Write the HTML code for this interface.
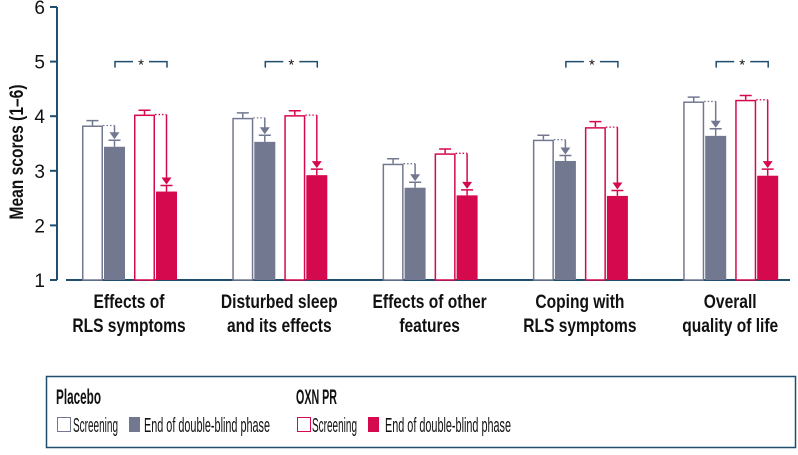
<!DOCTYPE html>
<html><head><meta charset="utf-8"><style>
body{margin:0;background:#fff;font-family:"Liberation Sans",sans-serif}
svg text{font-family:"Liberation Sans",sans-serif}
</style></head><body>
<svg id="chart" width="798" height="450" viewBox="0 0 798 450" xmlns="http://www.w3.org/2000/svg">
<g id="axes"></g><g id="bars"></g>
<g>
<rect x="46.5" y="376.5" width="749" height="71" fill="none" stroke="#1f4e6e" stroke-width="1.5"/>
<text x="56" y="404" textLength="45" lengthAdjust="spacingAndGlyphs" font-size="21" font-weight="bold" fill="#111">Placebo</text>
<rect x="57.5" y="417.5" width="13" height="14" fill="#fff" stroke="#737891"/>
<text x="73" y="432" textLength="45" lengthAdjust="spacingAndGlyphs" font-size="20" fill="#111">Screening</text>
<rect x="129" y="417" width="11" height="15" fill="#737891"/>
<text x="144" y="432" textLength="126" lengthAdjust="spacingAndGlyphs" font-size="20" fill="#111">End of double-blind phase</text>
<text x="296" y="404" textLength="41" lengthAdjust="spacingAndGlyphs" font-size="21" font-weight="bold" fill="#111">OXN PR</text>
<rect x="297.5" y="417.5" width="13" height="14" fill="#fff" stroke="#d5094e"/>
<text x="312" y="432" textLength="45" lengthAdjust="spacingAndGlyphs" font-size="20" fill="#111">Screening</text>
<rect x="368" y="417" width="11" height="15" fill="#d5094e"/>
<text x="385" y="432" textLength="126" lengthAdjust="spacingAndGlyphs" font-size="20" fill="#111">End of double-blind phase</text>
</g>
</svg>
<script>
const categories=[["Effects of","RLS symptoms"],["Disturbed sleep","and its effects"],["Effects of other","features"],["Coping with","RLS symptoms"],["Overall","quality of life"]];
const placeboScreening=[3.83,3.97,3.13,3.57,4.27];
const placeboEnd=[3.44,3.53,2.69,3.18,3.64];
const oxnScreening=[4.03,4.02,3.32,3.80,4.30];
const oxnEnd=[2.62,2.92,2.55,2.54,2.91];
const errPlaceboScreening=[0.09,0.09,0.09,0.08,0.08];
const errPlaceboEnd=[0.12,0.12,0.1,0.1,0.13];
const errOxnScreening=[0.08,0.08,0.08,0.1,0.08];
const errOxnEnd=[0.11,0.11,0.1,0.1,0.12];
const significant=[true,true,false,true,true];
const yTicks=[1,2,3,4,5,6];
const NS="http://www.w3.org/2000/svg";
const Y0=280,PX=54.6,GX0=82,GSTEP=150.3,BW=21;
const y=v=>Y0-(v-1)*PX;
const gx=i=>GX0+i*GSTEP;
const NAVY="#1f4e6e",GREY="#737891",RED="#d5094e";
function mk(tag,attrs,parent,text){const e=document.createElementNS(NS,tag);for(const k in attrs)e.setAttribute(k,attrs[k]);if(text!==undefined)e.textContent=text;parent.appendChild(e);return e;}
const axes=document.getElementById('axes'),bars=document.getElementById('bars');
let e=mk('line',{x1:57,y1:y(6),x2:57,y2:y(1),stroke:NAVY,'stroke-width':2},axes);


e=mk('line',{x1:66,y1:Y0,x2:790,y2:Y0,stroke:NAVY,'stroke-width':2},axes);


yTicks.forEach(t=>{
 const l=mk('line',{x1:50,y1:y(t),x2:57,y2:y(t),stroke:NAVY,'stroke-width':2},axes);
 
 
 const tx=mk('text',{x:45,y:y(t)+7,'font-size':19,'text-anchor':'end',fill:'#111'},axes,String(t));
 
 
});
e=mk('text',{x:0,y:0,'font-size':19,'font-weight':'bold','text-anchor':'middle',textLength:135,lengthAdjust:'spacingAndGlyphs',fill:'#111',transform:'translate(23,152) rotate(-90)'},axes,'Mean scores (1–6)');


function bar(x,v,err,color,filled,name){
 const r=mk('rect',{x:filled?x:x+0.75,y:y(v)+(filled?0:0.75),width:filled?BW:BW-1.5,height:Y0-y(v)-(filled?0:0.75),fill:filled?color:'#fff',stroke:filled?'none':color,'stroke-width':1.5},bars);
 
 
 const cx=x+BW/2,t=y(v+err);
 const eb=mk('path',{d:`M${cx},${y(v)} V${t} M${cx-6},${t} H${cx+6}`,stroke:color,'stroke-width':1.5,fill:'none'},bars);
 
 
}
function arrow(x1,vs,x2,ve,err,color){
 const cx=x2+BW/2,top=y(vs),tip=y(ve+err)-1;
 const d=mk('line',{x1:x1+BW,y1:top,x2:cx,y2:top,stroke:color,'stroke-width':1.3,'stroke-dasharray':'1.5,2'},bars);
 
 
 const a=mk('line',{x1:cx,y1:top,x2:cx,y2:tip-6,stroke:color,'stroke-width':1.5},bars);
 
 
 const h=mk('path',{d:`M${cx-5},${tip-7} L${cx+5},${tip-7} L${cx},${tip} Z`,fill:color},bars);
 
 
}
categories.forEach((c,i)=>{
 const x=gx(i);
 bar(x,placeboScreening[i],errPlaceboScreening[i],GREY,false,'bar-placebo-screening');
 bar(x+22,placeboEnd[i],errPlaceboEnd[i],GREY,true,'bar-placebo-end');
 bar(x+52,oxnScreening[i],errOxnScreening[i],RED,false,'bar-oxn-screening');
 bar(x+74,oxnEnd[i],errOxnEnd[i],RED,true,'bar-oxn-end');
 arrow(x,placeboScreening[i],x+22,placeboEnd[i],errPlaceboEnd[i],GREY);
 arrow(x+52,oxnScreening[i],x+74,oxnEnd[i],errOxnEnd[i],RED);
 const lx=x+47;
 const t=mk('text',{x:0,y:0,'font-size':19,'font-weight':'bold','text-anchor':'middle',fill:'#111',transform:`translate(${lx},308) scale(0.82,1)`},bars);
 
 
 mk('tspan',{x:0,dy:0},t,c[0]);mk('tspan',{x:0,dy:24},t,c[1]);
 if(significant[i]){
  const bx1=x+33,bx2=x+85,by=y(5);
  const b=mk('path',{d:`M${bx1},${by+6} V${by} H${bx1+18} M${bx2-18},${by} H${bx2} V${by+6}`,stroke:NAVY,'stroke-width':1.5,fill:'none'},bars);
  
  
  const s=mk('text',{x:(bx1+bx2)/2,y:by+8,'font-size':15,'text-anchor':'middle',fill:'#111'},bars,'*');
  
  
 }
});
</script>
</body></html>
